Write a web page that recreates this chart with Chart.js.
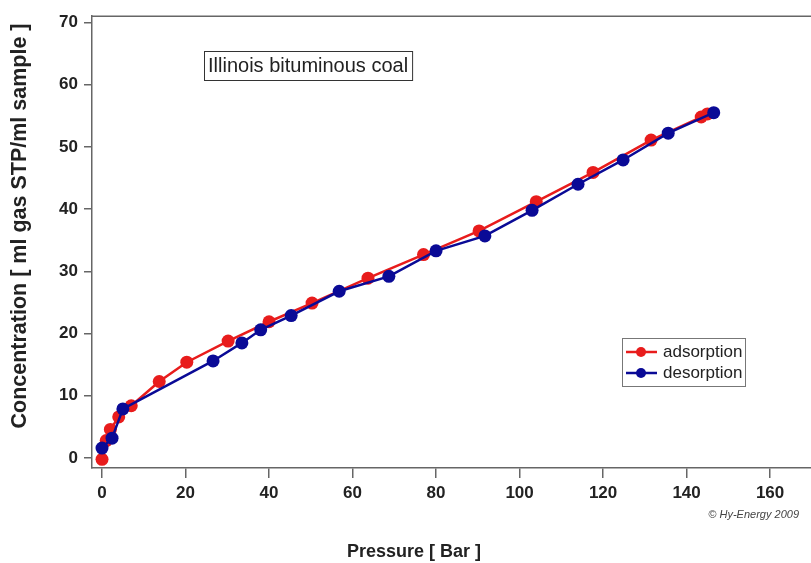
<!DOCTYPE html>
<html lang="en">
    <head>
        <meta charset="UTF-8" />
        <title>Illinois bituminous coal</title>
        <style>
            body, html {
                margin: 0;
                padding: 0;
                background: #fff;
                overflow: hidden;
            }
            #chart {
                display: block;
            }
        </style>
    </head>
    <body>
        <canvas id="chart" width="811" height="563"></canvas>
    </body>
    <script src="https://cdn.jsdelivr.net/npm/chart.js@4.4.0/dist/chart.umd.min.js"></script>
    <script>
        // adsorption branch (pressure in bar, concentration in ml/ml)
        const adsPressure = [0, 1, 2, 4, 7, 13.7, 20.3, 30.2, 40, 50.3, 63.7, 77, 90.3, 104, 117.6, 131.5, 143.5, 145];
        const adsConc = [-0.2, 2.8, 4.6, 6.6, 8.4, 12.3, 15.4, 18.8, 21.9, 24.9, 28.9, 32.7, 36.5, 41.2, 45.9, 51.1, 54.8, 55.3];

        // desorption branch, measured from high pressure down
        const desPressure = [146.5, 135.6, 124.8, 114, 103, 91.7, 80, 68.7, 56.8, 45.3, 38, 33.5, 26.6, 5, 2.4, 0];
        const desConc = [55.5, 52.2, 47.9, 44, 39.8, 35.7, 33.3, 29.2, 26.8, 22.9, 20.6, 18.5, 15.6, 7.9, 3.2, 1.6];

        const seriesNames = ["adsorption", "desorption"];
        const seriesColors = ["#e81c1c", "#0a0a96"];
        const sampleName = "Illinois bituminous coal";
        const xTitle = "Pressure [ Bar ]";
        const yTitle = "Concentration [ ml gas STP/ml sample ]";
        const creditText = "\u00A9 Hy-Energy 2009";

        function toPoints(xs, ys) {
            return xs.map((x, i) => ({ x: x, y: ys[i] }));
        }

        const axisColor = "#666";
        const fontFamily = "Arial, 'Liberation Sans', sans-serif";
        const tickFont = { family: fontFamily, size: 17, weight: "bold" };

        // frame top line, axis titles, sample label box, legend box and credit
        const extras = {
            id: "extras",
            afterDraw(chart) {
                const ctx = chart.ctx;
                const area = chart.chartArea;
                ctx.save();

                ctx.strokeStyle = axisColor;
                ctx.lineWidth = 1.5;
                ctx.beginPath();
                ctx.moveTo(area.left, area.top);
                ctx.lineTo(chart.width, area.top);
                ctx.stroke();

                // axis titles
                ctx.fillStyle = "#222";
                ctx.textBaseline = "middle";
                ctx.font = "bold 18px " + fontFamily;
                ctx.textAlign = "center";
                ctx.fillText(xTitle, 414, 552);

                ctx.save();
                ctx.translate(20, 226);
                ctx.rotate(-Math.PI / 2);
                ctx.font = "bold 21.5px " + fontFamily;
                ctx.fillText(yTitle, 0, 0);
                ctx.restore();

                // sample label
                ctx.font = "20px " + fontFamily;
                ctx.textAlign = "left";
                const tw = ctx.measureText(sampleName).width;
                ctx.strokeStyle = "#333";
                ctx.lineWidth = 1;
                ctx.strokeRect(204.5, 51.5, tw + 8, 29);
                ctx.fillText(sampleName, 208, 66);

                // legend
                ctx.font = "17px " + fontFamily;
                ctx.strokeStyle = "#777";
                ctx.strokeRect(622.5, 338.5, 123, 48);
                seriesNames.forEach((name, i) => {
                    const y = 352 + i * 21;
                    ctx.strokeStyle = seriesColors[i];
                    ctx.lineWidth = 2.5;
                    ctx.beginPath();
                    ctx.moveTo(626, y);
                    ctx.lineTo(657, y);
                    ctx.stroke();
                    ctx.fillStyle = seriesColors[i];
                    ctx.beginPath();
                    ctx.arc(641, y, 5, 0, Math.PI * 2);
                    ctx.fill();
                    ctx.fillStyle = "#222";
                    ctx.fillText(name, 663, y);
                });

                // credit
                ctx.font = "italic 11px " + fontFamily;
                ctx.fillStyle = "#444";
                ctx.textAlign = "right";
                ctx.fillText(creditText, 799, 515);
                ctx.restore();
            },
        };

        new Chart(document.getElementById("chart"), {
            type: "line",
            data: {
                datasets: [
                    {
                        label: seriesNames[0],
                        data: toPoints(adsPressure, adsConc),
                        borderColor: seriesColors[0],
                        backgroundColor: seriesColors[0],
                        borderWidth: 2.5,
                        pointRadius: 6.5,
                        pointBorderWidth: 0,
                        order: 2,
                    },
                    {
                        label: seriesNames[1],
                        data: toPoints(desPressure, desConc),
                        borderColor: seriesColors[1],
                        backgroundColor: seriesColors[1],
                        borderWidth: 2.5,
                        pointRadius: 6.5,
                        pointBorderWidth: 0,
                        order: 1,
                    },
                ],
            },
            options: {
                responsive: false,
                animation: false,
                devicePixelRatio: 1,
                layout: { autoPadding: false, padding: { top: 13, right: 0, left: 0, bottom: 0 } },
                plugins: {
                    legend: { display: false },
                    tooltip: { enabled: false },
                },
                scales: {
                    x: {
                        type: "linear",
                        min: -2.4,
                        max: 169.8,
                        afterFit: (s) => {
                            s.height = 95;
                            s.paddingRight = 0;
                        },
                        border: { color: axisColor, width: 1.5 },
                        grid: { drawOnChartArea: false, drawTicks: true, tickLength: 10, color: axisColor, lineWidth: 1.5 },
                        ticks: { stepSize: 20, includeBounds: false, padding: 5, color: "#222", font: tickFont, maxRotation: 0 },
                    },
                    y: {
                        type: "linear",
                        min: -1.6,
                        max: 71,
                        afterFit: (s) => { s.width = 92; },
                        border: { color: axisColor, width: 1.5 },
                        grid: { drawOnChartArea: false, drawTicks: true, tickLength: 8, color: axisColor, lineWidth: 1.5 },
                        ticks: { stepSize: 10, includeBounds: false, padding: 6, color: "#222", font: tickFont },
                    },
                },
            },
            plugins: [extras],
        });
    </script>
</html>
